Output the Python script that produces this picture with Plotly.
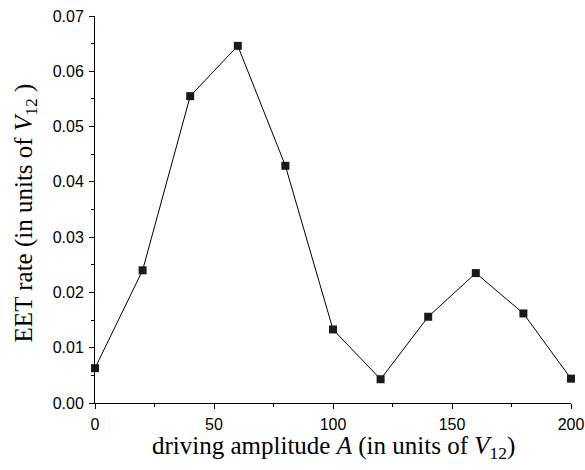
import plotly.graph_objects as go

amplitude = [0, 20, 40, 60, 80, 100, 120, 140, 160, 180, 200]
eet_rate = [0.0063, 0.0240, 0.0555, 0.0646, 0.0429, 0.0133, 0.0043, 0.0156, 0.0235, 0.0162, 0.0044]

x_ticks = [0, 50, 100, 150, 200]
y_ticks = [0.00, 0.01, 0.02, 0.03, 0.04, 0.05, 0.06, 0.07]

x_title = "driving amplitude <i>A</i> (in units of <i>V</i><sub>12</sub>)"
y_title = "EET rate (in units of <i>V</i><sub>12</sub> )"

fig = go.Figure()
fig.add_trace(go.Scatter(
    x=amplitude, y=eet_rate, mode="lines+markers",
    line=dict(color="black", width=1),
    marker=dict(symbol="square", size=8, color="#1a1a1a", line=dict(width=0)),
    cliponaxis=False, showlegend=False,
))

axis_common = dict(
    showgrid=False, zeroline=False, showline=True, linecolor="black", linewidth=1,
    ticks="outside", ticklen=5, tickcolor="black", tickwidth=1,
    tickfont=dict(family="Liberation Sans, Arial", size=16, color="black"),
    automargin=False, ticklabelstandoff=2,
)

fig.update_xaxes(
    range=[0, 200], tickvals=x_ticks, ticktext=[str(v) for v in x_ticks],
    minor=dict(ticks="outside", ticklen=3, dtick=25, tick0=0, tickcolor="black"),
    **axis_common,
)
fig.update_yaxes(
    range=[0, 0.07], tickvals=y_ticks, ticktext=[f"{v:.2f}" for v in y_ticks],
    minor=dict(ticks="outside", ticklen=3, dtick=0.005, tick0=0, tickcolor="black"),
    **axis_common,
)

title_font = dict(family="Liberation Serif, Times New Roman", size=25, color="black")
fig.add_annotation(text=x_title, xref="paper", yref="paper", x=0.5, y=-0.114,
                   xanchor="center", yanchor="middle", showarrow=False, font=title_font)
fig.add_annotation(text=y_title, xref="paper", yref="paper", x=-0.147, y=0.49,
                   xanchor="center", yanchor="middle", textangle=-90, showarrow=False,
                   font=title_font)

fig.update_layout(
    width=585, height=470,
    margin=dict(l=95, r=14, t=16, b=67),
    plot_bgcolor="white", paper_bgcolor="white",
)

fig.write_html("out.html", config={"displayModeBar": False},
               post_script="document.body.style.margin='0';")
